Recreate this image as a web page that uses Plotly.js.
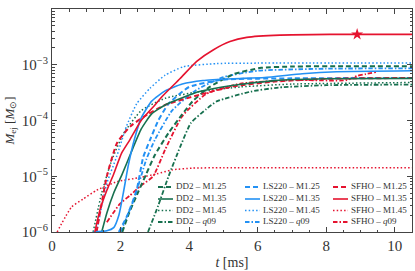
<!DOCTYPE html>
<html><head><meta charset="utf-8">
<script src="https://cdn.plot.ly/plotly-3.0.1.min.js"></script>
<style>html,body{margin:0;padding:0;background:#fff;}#chart{width:415px;height:271px;}</style>
</head><body><div id="chart"></div>
<script>
// ---- data (t in ms, M_ej in solar masses) ----
const t_DD2_M125 = [2.05, 2.25, 2.5, 2.75, 3.0, 3.4, 3.8, 4.1, 4.6, 5.3, 6.1, 7.0, 8.5, 10.5];
const m_DD2_M125 = [1e-6, 2.2e-6, 5e-6, 1.1e-5, 2.4e-5, 6e-5, 1.3e-4, 2.2e-4, 4e-4, 6.8e-4, 8.8e-4, 9.3e-4, 9.4e-4, 9.4e-4];
const t_DD2_M135 = [1.45, 1.6, 1.8, 2.05, 2.3, 2.6, 2.9, 3.3, 4.3, 5.3, 6.5, 8.0, 10.5];
const m_DD2_M135 = [1e-6, 2.2e-6, 5e-6, 1.1e-5, 2.6e-5, 7e-5, 1.3e-4, 1.9e-4, 3.3e-4, 4.3e-4, 5.2e-4, 5.6e-4, 5.7e-4];
const t_DD2_M145 = [1.2, 1.45, 1.75, 2.1, 2.6, 3.3, 4.3, 5.5, 7.0, 10.5];
const m_DD2_M145 = [1e-6, 5e-6, 2e-5, 6e-5, 1.5e-4, 2.5e-4, 3.3e-4, 4e-4, 4.5e-4, 4.8e-4];
const t_DD2_q09 = [2.8, 3.1, 3.4, 3.75, 4.05, 4.5, 4.8, 5.8, 6.6, 8.0, 10.5];
const m_DD2_q09 = [1e-6, 3e-6, 1e-5, 3.5e-5, 9e-5, 1.6e-4, 2.2e-4, 3.3e-4, 3.9e-4, 4.3e-4, 4.4e-4];

const t_LS220_M125 = [1.95, 2.2, 2.47, 2.66, 2.86, 3.1, 3.4, 4.0, 5.0, 7.0, 10.5];
const m_LS220_M125 = [1e-6, 2e-6, 5.7e-6, 2.2e-5, 4.5e-5, 1e-4, 2e-4, 4e-4, 5.4e-4, 5.7e-4, 5.8e-4];
const t_LS220_M135 = [1.2, 1.6, 1.8, 1.95, 2.08, 2.22, 2.4, 2.6, 2.9, 3.3, 3.8, 4.4, 5.3, 6.2, 7.3, 8.3, 10.5];
const m_LS220_M135 = [1e-6, 1.05e-6, 1.2e-6, 2e-6, 5e-6, 1.5e-5, 4.5e-5, 1.1e-4, 2.2e-4, 3.4e-4, 4.5e-4, 5.2e-4, 5.6e-4, 5.9e-4, 6.9e-4, 7.5e-4, 7.8e-4];
const t_LS220_M145 = [1.3, 1.45, 1.6, 1.88, 2.17, 2.47, 2.86, 3.3, 3.83, 4.8, 6.0, 10.5];
const m_LS220_M145 = [1e-6, 2.9e-6, 7.5e-6, 2.2e-5, 7.8e-5, 2e-4, 3.8e-4, 6.5e-4, 9.2e-4, 1.05e-3, 1.07e-3, 1.07e-3];
const t_LS220_q09 = [2.0, 2.4, 2.75, 3.0, 3.5, 4.2, 5.0, 6.0, 8.0, 10.5];
const m_LS220_q09 = [1e-6, 4e-6, 2e-5, 4.5e-5, 1.5e-4, 3.5e-4, 6e-4, 7.8e-4, 8.5e-4, 8.6e-4];

const t_SFHO_M125 = [1.3, 1.6, 1.9, 2.3, 2.8, 3.3, 4.3, 5.3, 6.5, 8.0, 10.5];
const m_SFHO_M125 = [1e-6, 1e-5, 4e-5, 8e-5, 1.3e-4, 1.9e-4, 2.9e-4, 4.1e-4, 5e-4, 5.6e-4, 5.8e-4];
const t_SFHO_M135 = [1.25, 1.4, 1.6, 1.8, 2.03, 2.27, 2.6, 2.95, 3.24, 3.73, 4.22, 4.7, 5.19, 5.68, 6.65, 8.1, 10.5];
const m_SFHO_M135 = [1e-6, 2.5e-6, 5.6e-6, 1.1e-5, 2.6e-5, 4.5e-5, 1e-4, 1.75e-4, 2.8e-4, 5.6e-4, 1.15e-3, 1.84e-3, 2.6e-3, 3.1e-3, 3.4e-3, 3.5e-3, 3.5e-3];
const t_SFHO_M145 = [0.15, 0.57, 0.91, 1.3, 1.9, 2.57, 3.05, 3.5, 4.1, 5.0, 10.5];
const m_SFHO_M145 = [1e-6, 2.8e-6, 3.9e-6, 5.6e-6, 8e-6, 9.5e-6, 1.1e-5, 1.3e-5, 1.4e-5, 1.42e-5, 1.42e-5];
const t_SFHO_q09 = [1.6, 1.98, 2.27, 2.57, 2.95, 3.3, 3.8, 4.5, 5.5, 7.0, 8.6, 8.9, 9.15, 9.45];
const m_SFHO_q09 = [1.5e-6, 3.2e-6, 4.5e-6, 6.6e-6, 1e-5, 3e-5, 1.2e-4, 3e-4, 4.6e-4, 5.3e-4, 5.3e-4, 6.3e-4, 6.8e-4, 7.4e-4];

const t_star = [8.9];
const m_star = [3.5e-3];

const eosNames = ["DD2", "LS220", "SFHO"];
const caseNames = ["M1.25", "M1.35", "M1.45", "q09"];
const xTicks = [0, 2, 4, 6, 8, 10];
const yTickVals = [1e-6, 1e-5, 1e-4, 1e-3, 1e-2];
const yTickText = ["10<sup>−6</sup>", "10<sup>−5</sup>", "10<sup>−4</sup>", "10<sup>−3</sup>", "10<sup>−2</sup>"];

// ---- styles ----
const colors = {DD2: "#17704f", LS220: "#2391f4", SFHO: "#e5132f"};
const dashes = {"M1.25": "5px,3px", "M1.35": "solid", "M1.45": "1.5px,2.2px", "q09": "4.5px,2px,1.5px,2px"};
const widths = {"M1.25": 2.0, "M1.35": 1.6, "M1.45": 1.5, "q09": 1.8};

const series = {
  DD2: {"M1.25": [t_DD2_M125, m_DD2_M125], "M1.35": [t_DD2_M135, m_DD2_M135], "M1.45": [t_DD2_M145, m_DD2_M145], "q09": [t_DD2_q09, m_DD2_q09]},
  LS220: {"M1.25": [t_LS220_M125, m_LS220_M125], "M1.35": [t_LS220_M135, m_LS220_M135], "M1.45": [t_LS220_M145, m_LS220_M145], "q09": [t_LS220_q09, m_LS220_q09]},
  SFHO: {"M1.25": [t_SFHO_M125, m_SFHO_M125], "M1.35": [t_SFHO_M135, m_SFHO_M135], "M1.45": [t_SFHO_M145, m_SFHO_M145], "q09": [t_SFHO_q09, m_SFHO_q09]}
};

const traces = [];
const drawOrder = ["M1.45", "q09", "M1.25", "M1.35"];
drawOrder.forEach(c => {
  eosNames.forEach(e => {
    const [tt, mm] = series[e][c];
    traces.push({
      x: tt, y: mm, type: "scatter", mode: "lines",
      name: e + " – " + c, showlegend: false, hoverinfo: "skip",
      line: {color: colors[e], dash: dashes[c], width: widths[c], shape: "spline", smoothing: 0.5}
    });
  });
});
traces.push({x: t_star, y: m_star, type: "scatter", mode: "markers", showlegend: false, hoverinfo: "skip",
  marker: {symbol: "star", size: 9, color: colors.SFHO, line: {width: 0}}});

// ---- legend: samples and labels drawn on a hidden 0..1 overlay axis (layout positions) ----
const L = 52, R = 412, T = 9, B = 232;
const px2x = p => (p - L) / (R - L);
const py2y = p => (B - p) / (B - T);
const colX = [158, 245, 333];
const rowY = [187, 199, 210.5, 222];
const legX = [], legY = [], legText = [];
eosNames.forEach((e, ci) => {
  caseNames.forEach((c, ri) => {
    const y = py2y(rowY[ri]);
    traces.push({x: [px2x(colX[ci]), px2x(colX[ci] + 15)], y: [y, y], xaxis: "x2", yaxis: "y2",
      type: "scatter", mode: "lines", showlegend: false, hoverinfo: "skip", cliponaxis: false,
      line: {color: colors[e], dash: dashes[c], width: widths[c]}});
    legX.push(px2x(colX[ci] + 18));
    legY.push(y);
    legText.push(e + " – " + (c === "q09" ? "<i>q</i>09" : c));
  });
});
traces.push({x: legX, y: legY, xaxis: "x2", yaxis: "y2", type: "scatter", mode: "text",
  text: legText, textposition: "middle right", showlegend: false, hoverinfo: "skip",
  textfont: {family: "Liberation Serif, serif", size: 9, color: "#333"}, cliponaxis: false});

const minorY = [];
for (let d = -6; d <= -3; d++) for (let k = 2; k <= 9; k++) minorY.push(k * Math.pow(10, d));

const font = {family: "Liberation Serif, serif", size: 15, color: "#333"};
const layout = {
  width: 415, height: 271,
  margin: {l: L, r: 415 - R, t: T, b: 271 - B},
  paper_bgcolor: "#fff", plot_bgcolor: "#fff",
  font: font, showlegend: false,
  xaxis: {range: [0, 10.5], tickmode: "array", tickvals: xTicks, ticks: "inside", ticklen: 5,
    tickcolor: "#444", mirror: "ticks", showline: true, linecolor: "#444", linewidth: 1,
    showgrid: false, zeroline: false, tickfont: font,
    minor: {tickmode: "linear", tick0: 0, dtick: 0.5, ticks: "inside", ticklen: 2.5, tickcolor: "#444"},
    title: {text: "<i>t</i> [ms]", font: {family: "Liberation Serif, serif", size: 14, color: "#333"}, standoff: 4}},
  yaxis: {type: "log", range: [-6, -2], tickmode: "array", tickvals: yTickVals, ticktext: yTickText,
    ticks: "inside", ticklen: 5, tickcolor: "#444", mirror: "ticks", showline: true, linecolor: "#444",
    linewidth: 1, showgrid: false, zeroline: false, tickfont: font,
    minor: {tickmode: "array", tickvals: minorY, ticks: "inside", ticklen: 2.5, tickcolor: "#444"},
    title: {text: "<i>M</i><sub>ej</sub> [<i>M</i><sub>⊙</sub>]", font: {family: "Liberation Serif, serif", size: 13, color: "#333"}, standoff: 4}},
  xaxis2: {overlaying: "x", range: [0, 1], visible: false, fixedrange: true},
  yaxis2: {overlaying: "y", range: [0, 1], visible: false, fixedrange: true}
};
Plotly.newPlot("chart", traces, layout, {staticPlot: true, displayModeBar: false});
</script></body></html>
